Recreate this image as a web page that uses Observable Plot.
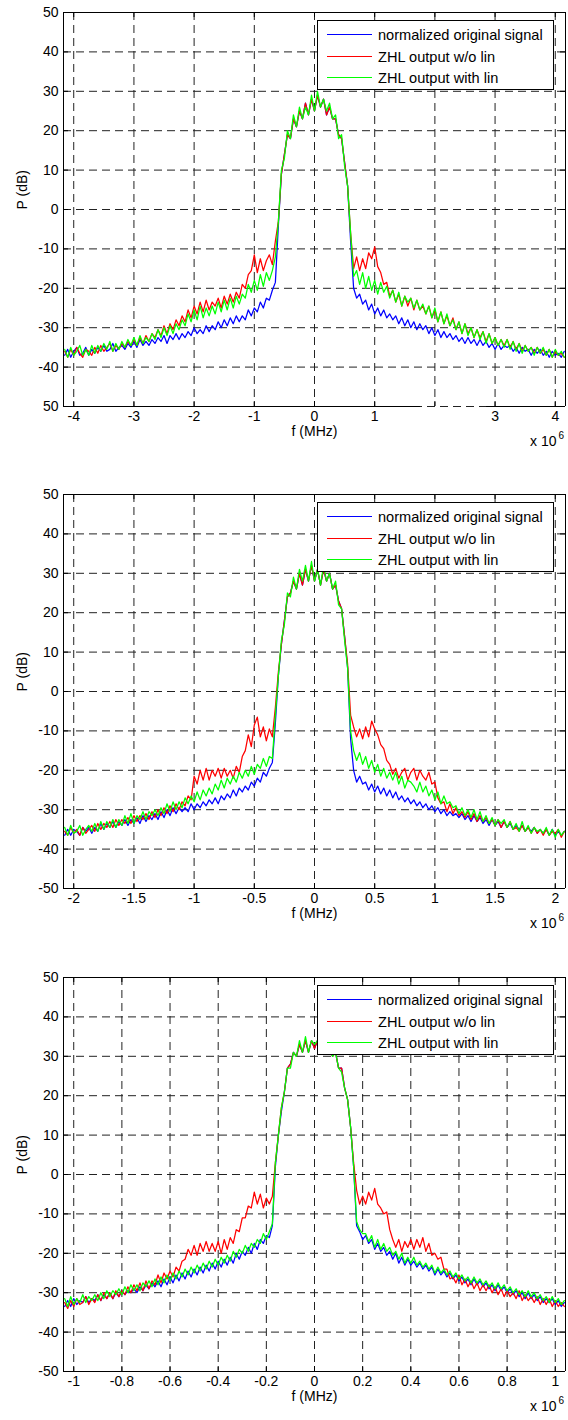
<!DOCTYPE html>
<html>
<head>
<meta charset="utf-8">
<script src="https://cdn.jsdelivr.net/npm/d3@7"></script>
<script src="https://cdn.jsdelivr.net/npm/@observablehq/plot@0.6"></script>
<style>
html, body { margin: 0; padding: 0; background: #fff; }
#chart svg { display: block; }
</style>
</head>
<body>
<div id="chart"></div>
<script>
// ---------- series names / colours ----------
const seriesNames = ["normalized original signal", "ZHL output w/o lin", "ZHL output with lin"];
const seriesColors = ["#0000ff", "#ff0000", "#00ff00"];
const xLabelText = "f (MHz)";
const yLabelText = "P (dB)";
const xExpBase = "x 10";
const xExpPower = "6";

// ---------- y axis (shared) ----------
const yDomain = [-50, 50];
const yTicks = [-50, -40, -30, -20, -10, 0, 10, 20, 30, 40, 50];
const yTickLabels = ["-50", "-40", "-30", "-20", "-10", "0", "10", "20", "30", "40", "50"];
const yTickLabels1 = ["50", "-40", "-30", "-20", "-10", "0", "10", "20", "30", "40", "50"];

// ---------- panel 1 (bin width 50 kHz, bins -83..83) ----------
const p1BinHz = 50000;
const p1Domain = [-4.17e6, 4.17e6];
const p1Ticks = [-4e6, -3e6, -2e6, -1e6, 0, 1e6, 2e6, 3e6, 4e6];
const p1TickLabels = ["-4", "-3", "-2", "-1", "0", "1", "", "3", "4"];
const p1BottomLine = [[-4.17e6, 1.76e6], [2.86e6, 4.17e6]];
const p1Blue = [
 -37,-35.5,-37.5,-36,-35,-37,-36.5,-35,-37,-35.5,
 -36.5,-35,-36,-34.5,-36,-35.5,-34,-36,-35,-34.5,
 -35.5,-34,-35,-33.5,-35,-33,-34.5,-33.5,-34.5,-33,
 -34,-32.5,-33.5,-32,-34,-32,-33,-31.5,-33,-31.5,
 -32.5,-31,-32,-30,-31.5,-30.5,-31.5,-29.5,-31,-29.5,
 -30.5,-28.5,-30,-28,-29.5,-27.5,-29,-27,-28.5,-27,
 -28,-25.5,-27,-25,-26,-23.5,-25,-22.5,-23,-20.5,
 -18.5,-4,9,14,19,18,23,21,25,23,
 27,24,28,25,29,26,28,24,26,23,
 23,19,18,12,6,-8,-20,-22.5,-21.5,-24,
 -23,-25.5,-24,-26.5,-25,-27,-25.5,-27.5,-26.5,-28,
 -27,-29,-27.5,-29.5,-28,-30,-28.5,-30.5,-29,-30.5,
 -29.5,-31.5,-30,-32,-30.5,-32.5,-31,-32.5,-31.5,-33,
 -32,-33.5,-32.5,-34,-32.5,-34,-33,-34.5,-33,-34.5,
 -33.5,-35,-34,-35.5,-34,-35.5,-34.5,-35,-34.5,-36,
 -35,-36.5,-35,-36,-35.5,-37,-35.5,-36.5,-35.5,-37,
 -36,-37.5,-36,-37,-36.5,-37.5,-36];
const p1Red = [
 -36,-37.5,-35.5,-37,-35,-36.5,-37.5,-35.5,-36,-37,
 -35,-36.5,-34.5,-36,-35,-34,-36,-34.5,-35.5,-34,
 -35,-33.5,-34.5,-33,-34.5,-32.5,-34,-32,-33.5,-31.5,
 -32.5,-30.5,-32,-29.5,-31.5,-29,-30.5,-28,-29.5,-27,
 -28.5,-25.5,-27.5,-24.5,-26.5,-23.5,-26,-23,-25.5,-23.5,
 -24.5,-22.5,-25,-22,-24,-21.5,-23.5,-21,-22.5,-19,
 -20,-16.5,-15.5,-11.5,-16,-12.5,-15.5,-13,-11.5,-14,
 -8,-3,9,14,19,18,23,21,25,23,
 27,24,28,25,29,26,28,24,26,23,
 23,19,18,12,6,-6,-15,-12,-15.5,-12.5,
 -15,-11,-12.5,-9.5,-14.5,-16,-19,-18.5,-22,-20.5,
 -23.5,-21.5,-24.5,-22,-24.5,-22.5,-25.5,-23,-25.5,-24.5,
 -26.5,-24.5,-27.5,-25.5,-28.5,-26,-29,-27,-29.5,-27.5,
 -30.5,-28.5,-31.5,-29,-31.5,-30,-32.5,-30.5,-32.5,-31,
 -33.5,-31.5,-34,-32.5,-34.5,-33,-34.5,-33,-35,-33.5,
 -35.5,-34,-36,-34.5,-36,-35,-36.5,-35,-36.5,-35.5,
 -37,-35.5,-37.5,-36,-37,-36.5,-37.5];
const p1Green = [
 -35.5,-37.5,-35,-37,-36,-34.5,-37,-35.5,-37,-34.5,
 -36.5,-34.5,-36,-34,-35.5,-33.5,-36,-34,-35.5,-33.5,
 -35,-33,-34.5,-32.5,-34.5,-32,-34,-32.5,-33.5,-31.5,
 -33,-30.5,-32.5,-30,-32,-29.5,-31.5,-29,-30.5,-28,
 -29.5,-26.5,-28.5,-25.5,-28,-24.5,-27.5,-25,-27,-24.5,
 -26.5,-23.5,-26,-23,-25.5,-22.5,-25,-22,-24,-21.5,
 -22.5,-19,-21,-18,-20.5,-16.5,-19.5,-16,-18,-15.5,
 -12,-3,10,13,20,18,24,21,26,23,
 26,24,29,25,30,26,28,25,27,23,
 24,18,19,11,6,-6,-17,-15.5,-19,-16,
 -20,-17,-20.5,-18,-21.5,-18.5,-21,-19.5,-22.5,-20.5,
 -23.5,-21,-24.5,-22,-23.5,-22.5,-25,-23,-25.5,-24,
 -26.5,-24.5,-27.5,-25,-28.5,-26,-29,-26.5,-29.5,-28,
 -30.5,-28.5,-31.5,-29,-32,-30,-32.5,-30.5,-33,-31,
 -34,-31.5,-34,-32.5,-34.5,-33,-35,-33,-35.5,-33.5,
 -36,-34,-36.5,-34.5,-36,-35,-37,-35,-36.5,-35,
 -37,-35.5,-37.5,-35.5,-37,-36,-37.5];

// ---------- panel 2 (bin width 25 kHz, bins -83..83) ----------
const p2BinHz = 25000;
const p2Domain = [-2.085e6, 2.085e6];
const p2Ticks = [-2e6, -1.5e6, -1e6, -0.5e6, 0, 0.5e6, 1e6, 1.5e6, 2e6];
const p2TickLabels = ["-2", "-1.5", "-1", "-0.5", "0", "0.5", "1", "1.5", "2"];
const p2BottomLine = [[-2.085e6, 2.085e6]];
const p2Blue = [
 -36.5,-35,-36.5,-35,-35.5,-36.5,-34.5,-35.5,-34.5,-36,
 -34.5,-35.5,-33.5,-35,-33.5,-34.5,-33,-34.5,-33,-34,
 -32.5,-34,-32.5,-33.5,-32,-33.5,-31.5,-33,-31.5,-32.5,
 -31,-32.5,-30.5,-32,-30,-31.5,-29.5,-31,-29.5,-30.5,
 -29.5,-30.5,-28.5,-30,-28.5,-29.5,-28,-29,-27.5,-28.5,
 -27,-28.5,-26.5,-27.5,-26,-27,-25,-26.5,-24.5,-25.5,
 -24,-25,-23,-24,-22,-23,-20.5,-21.5,-19.5,-18,
 -8,4,12,18,24,25,28,26,30,27,
 31,28,32,28,31,27,31,28,30,26,
 27,23,21,14,6,-12,-20,-23,-21.5,-23.5,
 -23,-25,-23.5,-25.5,-24,-26,-24.5,-26.5,-25,-27,
 -25.5,-27.5,-26.5,-28,-27,-28.5,-27.5,-29,-28,-29.5,
 -28.5,-30,-29,-30.5,-29.5,-31,-30,-31.5,-30.5,-31.5,
 -31,-32,-31,-32.5,-31.5,-33,-31.5,-33,-32,-33.5,
 -32.5,-34,-32.5,-34,-33,-34.5,-33,-34.5,-33.5,-35,
 -34,-35,-34,-35.5,-34.5,-35.5,-34.5,-36,-35,-36,
 -35,-36.5,-35,-36.5,-35.5,-36.5,-35.5];
const p2Red = [
 -35.5,-36.5,-34.5,-36,-35,-36.5,-34.5,-36,-35,-34,
 -35.5,-33.5,-35,-33.5,-34.5,-33,-34.5,-32.5,-34,-32.5,
 -33.5,-32,-33.5,-31.5,-33,-31.5,-32.5,-31,-32.5,-30.5,
 -32,-30,-31.5,-29.5,-31,-29,-30.5,-28.5,-30,-28,
 -29,-26.5,-27.5,-21.5,-23.5,-20,-22.5,-19.5,-22.5,-20,
 -21.5,-19.5,-22,-19.5,-21.5,-20,-22,-19,-20.5,-16.5,
 -15,-11,-14,-8.5,-6.5,-11.5,-9,-12.5,-9.5,-11.5,
 -4,5,12,18,24,25,28,26,30,27,
 31,28,32,28,31,27,31,28,30,26,
 27,23,21,14,7,-6,-9,-11.5,-9.5,-12,
 -9,-11.5,-7.5,-9.5,-11,-13.5,-14.5,-17.5,-18.5,-21,
 -19.5,-22,-20.5,-19.5,-22.5,-20.5,-19.5,-22.5,-20,-21.5,
 -22.5,-20.5,-23.5,-23,-27,-28.5,-28,-30.5,-28.5,-31,
 -29.5,-31.5,-30.5,-32,-30.5,-32.5,-31,-33,-31.5,-33,
 -32,-33.5,-32.5,-34,-32.5,-34.5,-33,-34.5,-33,-35,
 -34.5,-35.5,-34,-35.5,-34.5,-36,-34.5,-36,-35,-36.5,
 -35,-36.5,-35.5,-36,-35,-37,-35.5];
const p2Green = [
 -34.5,-36.5,-34,-36,-35.5,-34,-36.5,-35,-34,-35.5,
 -33.5,-35.5,-33,-35,-33,-34.5,-32.5,-34.5,-32.5,-34,
 -31.5,-33.5,-31,-33.5,-31.5,-32.5,-30.5,-32.5,-30.5,-31.5,
 -30,-31.5,-29.5,-31,-28.5,-30.5,-28,-30,-28,-29.5,
 -27,-28.5,-26.5,-28,-25.5,-27.5,-25,-26.5,-24.5,-26,
 -23.5,-25,-22.5,-24.5,-22,-23.5,-21.5,-23,-20.5,-22,
 -20,-21.5,-19,-21,-18.5,-19.5,-17,-19,-16.5,-17,
 -6,4,13,17,25,24,29,26,31,28,
 32,28,33,28,31,27,32,28,30,26,
 28,22,21,13,6,-10,-15,-17.5,-15.5,-18.5,
 -16.5,-19.5,-17.5,-20.5,-18.5,-21.5,-19.5,-22,-20.5,-22.5,
 -20.5,-23.5,-21.5,-24.5,-22.5,-23,-24,-25.5,-23,-25.5,
 -24,-26.5,-25,-27.5,-25.5,-28.5,-26.5,-28.5,-28,-29.5,
 -29,-31,-29.5,-31.5,-30,-32,-30,-32.5,-30.5,-33,
 -31.5,-33.5,-32,-34,-32.5,-33.5,-32.5,-34.5,-33,-35,
 -33.5,-35.5,-33,-35.5,-34,-36,-34.5,-35.5,-35,-36,
 -34.5,-36.5,-35,-37,-35,-36.5,-35.5];

// ---------- panel 3 (bin width 12.5 kHz, bins -83..83) ----------
const p3BinHz = 12500;
const p3Domain = [-1.0425e6, 1.0425e6];
const p3Ticks = [-1e6, -0.8e6, -0.6e6, -0.4e6, -0.2e6, 0, 0.2e6, 0.4e6, 0.6e6, 0.8e6, 1e6];
const p3TickLabels = ["-1", "-0.8", "-0.6", "-0.4", "-0.2", "0", "0.2", "0.4", "0.6", "0.8", "1"];
const p3BottomLine = [[-1.0425e6, 1.0425e6]];
const p3Blue = [
 -33.5,-32,-33.5,-31.5,-33,-32,-32.5,-31,-32.5,-31.5,
 -32,-30.5,-32,-30.5,-31.5,-30,-31.5,-30,-31,-29.5,
 -30.5,-29.5,-30,-29,-30,-28.5,-29.5,-28,-29,-27.5,
 -28.5,-27,-28.5,-26.5,-28,-26,-27.5,-25.5,-27,-25,
 -26.5,-24.5,-26,-24,-25.5,-23.5,-25,-23,-24.5,-22.5,
 -24,-22,-23.5,-21.5,-23,-21,-22.5,-20,-21.5,-19.5,
 -20.5,-18.5,-20,-17.5,-19,-16.5,-17.5,-15.5,-16,-13,
 2,10,16,21,27,28,31,30,33,31,
 34,31,34,32,34,31,33,31,32,30,
 31,27,27,22,19,12,2,-13,-14.5,-16.5,
 -15.5,-17.5,-16.5,-19,-17.5,-19.5,-18.5,-20.5,-19.5,-21.5,
 -20,-22.5,-21,-23,-21.5,-23,-22,-23.5,-22.5,-24,
 -23,-24.5,-23.5,-25.5,-24,-25.5,-24.5,-26,-25,-26.5,
 -25.5,-27,-26,-27.5,-26.5,-28,-26.5,-28,-27,-28.5,
 -27.5,-29,-28,-29.5,-28,-29.5,-28.5,-30,-29,-30.5,
 -29.5,-31,-30,-31.5,-30,-31.5,-30.5,-32,-31,-32.5,
 -31.5,-32.5,-31.5,-33,-32,-33.5,-32.5];
const p3Red = [
 -32.5,-34,-32,-33.5,-31.5,-33,-32.5,-31,-33,-31.5,
 -32.5,-30.5,-32,-30,-31.5,-30,-31.5,-29.5,-31,-29.5,
 -30.5,-28.5,-30,-28,-29.5,-27.5,-29.5,-27,-29,-27,
 -28,-25.5,-27.5,-25,-26.5,-24.5,-26,-23.5,-24.5,-22,
 -21.5,-19,-20.5,-18,-20.5,-17.5,-19.5,-17,-19.5,-17.5,
 -19.5,-17,-20,-16.5,-19,-16,-17.5,-14,-14.5,-11,
 -11,-8,-8.5,-4.5,-7.5,-5,-8.5,-6,-7.5,-5.5,
 3,10,17,21,27,28,31,30,33,31,
 34,31,34,32,34,31,33,31,32,30,
 31,27,27,22,19,12,3,-4,-7.5,-5.5,
 -7.5,-4.5,-6.5,-3.5,-7.5,-8.5,-10,-9.5,-14,-16.5,
 -18.5,-16.5,-19.5,-17,-18.5,-16.5,-19,-16.5,-18.5,-16,
 -19.5,-17.5,-20.5,-20,-21.5,-21,-24,-24,-26.5,-26,
 -27.5,-25.5,-28,-26.5,-28.5,-27,-29,-27.5,-29.5,-28,
 -29.5,-28,-30,-28.5,-30.5,-29,-31,-29.5,-31,-30,
 -31.5,-29.5,-32,-30.5,-32,-31,-32.5,-31,-33,-31.5,
 -33,-31.5,-33.5,-32,-33.5,-32.5,-33.5];
const p3Green = [
 -31.5,-33.5,-31,-33,-31.5,-32.5,-30.5,-32.5,-31,-32,
 -30.5,-32,-30,-31.5,-29.5,-31,-29.5,-30.5,-29,-30.5,
 -28.5,-30,-28,-29.5,-28,-29.5,-27.5,-28.5,-27,-28.5,
 -26.5,-28,-26,-27.5,-25.5,-27,-25,-26.5,-24.5,-26,
 -24,-25.5,-23.5,-25,-23,-24.5,-22.5,-24,-22,-23.5,
 -21.5,-23,-21,-22.5,-20.5,-22,-19.5,-21,-19,-20,
 -18,-19.5,-17.5,-18.5,-16.5,-17.5,-15,-16.5,-14.5,-12.5,
 3,10,17,21,27,27,31,30,34,31,
 35,31,34,33,34,31,34,31,32,30,
 31,27,26,22,19,12,2,-12,-14,-15,
 -15,-17,-15.5,-18.5,-16.5,-19,-17.5,-19.5,-18.5,-20.5,
 -19.5,-21.5,-20,-22.5,-21,-22.5,-21,-23,-22,-23.5,
 -22.5,-24,-23,-25,-23.5,-25,-24,-25.5,-24.5,-26,
 -25,-26.5,-25.5,-27,-26,-27.5,-26,-27.5,-26.5,-28,
 -27,-28.5,-27.5,-29,-27.5,-29,-28,-29.5,-28.5,-30,
 -29,-30.5,-29.5,-31,-29.5,-31,-30,-31.5,-30.5,-32,
 -31,-32.5,-31,-32.5,-31.5,-33,-32];

// ---------- build ----------
const NBIN = 83;
[p1Blue, p1Red, p1Green, p2Blue, p2Red, p2Green, p3Blue, p3Red, p3Green].forEach((a, k) => {
  if (a.length !== 2 * NBIN + 1) throw new Error("series " + k + " has length " + a.length);
});
const toRows = (vals, binHz) => vals.map((p, i) => ({ f: (i - NBIN) * binHz, p }));

const FONT = "'Liberation Sans', Arial, Helvetica, sans-serif";
const FRAME_TOP = 12, FRAME_H = 394, FRAME_L = 63, FRAME_R = 3, W = 568, TICK = 5;
const GRID = { stroke: "#222", strokeWidth: 1, strokeDasharray: "8,5" };

function legendMark(index, scales, values, dimensions) {
  const { width, marginRight, marginTop } = dimensions;
  const x0 = width - marginRight - 248, y0 = marginTop + 8;
  const g = d3.create("svg:g");
  g.append("rect").attr("x", x0 + 0.5).attr("y", y0 + 0.5).attr("width", 236).attr("height", 69)
    .attr("fill", "#fff").attr("stroke", "#000").attr("stroke-width", 1);
  seriesNames.forEach((name, k) => {
    const yy = Math.round(y0 + 14 + k * 21.5) + 0.5;
    g.append("line").attr("x1", x0 + 10).attr("x2", x0 + 55).attr("y1", yy).attr("y2", yy)
      .attr("stroke", seriesColors[k]).attr("stroke-width", 1);
    g.append("text").attr("x", x0 + 61).attr("y", yy).attr("dy", "0.35em")
      .attr("text-anchor", "start").attr("font-size", 14.6).attr("fill", "#000").text(name);
  });
  return g.node();
}

function panel(cfg) {
  const xLabelMap = new Map(cfg.xTicks.map((t, i) => [t, cfg.xTickLabels[i]]));
  const yLabelMap = new Map(yTicks.map((t, i) => [t, cfg.yTickLabels[i]]));
  const series = [cfg.blue, cfg.red, cfg.green];
  return Plot.plot({
    width: W,
    height: cfg.height,
    marginTop: FRAME_TOP,
    marginLeft: FRAME_L,
    marginRight: FRAME_R,
    marginBottom: cfg.height - FRAME_TOP - FRAME_H,
    style: { fontFamily: FONT, fontSize: "14px", background: "#fff", color: "#000", overflow: "visible" },
    x: { domain: cfg.xDomain, ticks: cfg.xTicks, tickFormat: d => xLabelMap.get(d), tickSize: 0, tickPadding: 5, label: null },
    y: { domain: yDomain, ticks: yTicks, tickFormat: d => yLabelMap.get(d), tickSize: 0, tickPadding: 5, label: null },
    marks: [
      Plot.ruleX(cfg.xTicks, { x: d => d, ...GRID }),
      Plot.ruleY(yTicks, { y: d => d, ...GRID }),
      ...series.map((vals, k) => Plot.line(toRows(vals, cfg.binHz), { x: "f", y: "p", stroke: seriesColors[k], strokeWidth: 1.25 })),
      legendMark,
      // axes box
      Plot.ruleY([yDomain[1]], { y: d => d, stroke: "#000" }),
      Plot.ruleY(cfg.bottomLine, { y: () => yDomain[0], x1: d => d[0], x2: d => d[1], stroke: "#000" }),
      Plot.ruleX(cfg.xDomain, { x: d => d, stroke: "#000" }),
      // inward tick marks
      Plot.tickX(cfg.xTicks, { x: d => d, insetTop: FRAME_H - TICK, stroke: "#000" }),
      Plot.tickX(cfg.xTicks, { x: d => d, insetBottom: FRAME_H - TICK, stroke: "#000" }),
      Plot.tickY(yTicks, { y: d => d, insetRight: W - FRAME_L - FRAME_R - TICK, stroke: "#000" }),
      Plot.tickY(yTicks, { y: d => d, insetLeft: W - FRAME_L - FRAME_R - TICK, stroke: "#000" }),
      // labels
      Plot.text([xLabelText], { text: d => d, frameAnchor: "bottom", dy: 29, fontSize: 14, fill: "#000" }),
      Plot.text([yLabelText], { text: d => d, frameAnchor: "left", rotate: -90, dx: -41, fontSize: 14, fill: "#000" }),
      Plot.text([xExpBase], { text: d => d, frameAnchor: "bottom-right", textAnchor: "end", dx: -9, dy: 39, fontSize: 14, fill: "#000" }),
      Plot.text([xExpPower], { text: d => d, frameAnchor: "bottom-right", textAnchor: "start", dx: -7, dy: 32, fontSize: 10, fill: "#000" })
    ]
  });
}

const chart = document.getElementById("chart");
chart.append(panel({ height: 482, xDomain: p1Domain, xTicks: p1Ticks, xTickLabels: p1TickLabels, yTickLabels: yTickLabels1,
  binHz: p1BinHz, blue: p1Blue, red: p1Red, green: p1Green, bottomLine: p1BottomLine }));
chart.append(panel({ height: 483, xDomain: p2Domain, xTicks: p2Ticks, xTickLabels: p2TickLabels, yTickLabels: yTickLabels,
  binHz: p2BinHz, blue: p2Blue, red: p2Red, green: p2Green, bottomLine: p2BottomLine }));
chart.append(panel({ height: 455, xDomain: p3Domain, xTicks: p3Ticks, xTickLabels: p3TickLabels, yTickLabels: yTickLabels,
  binHz: p3BinHz, blue: p3Blue, red: p3Red, green: p3Green, bottomLine: p3BottomLine }));
</script>
</body>
</html>
